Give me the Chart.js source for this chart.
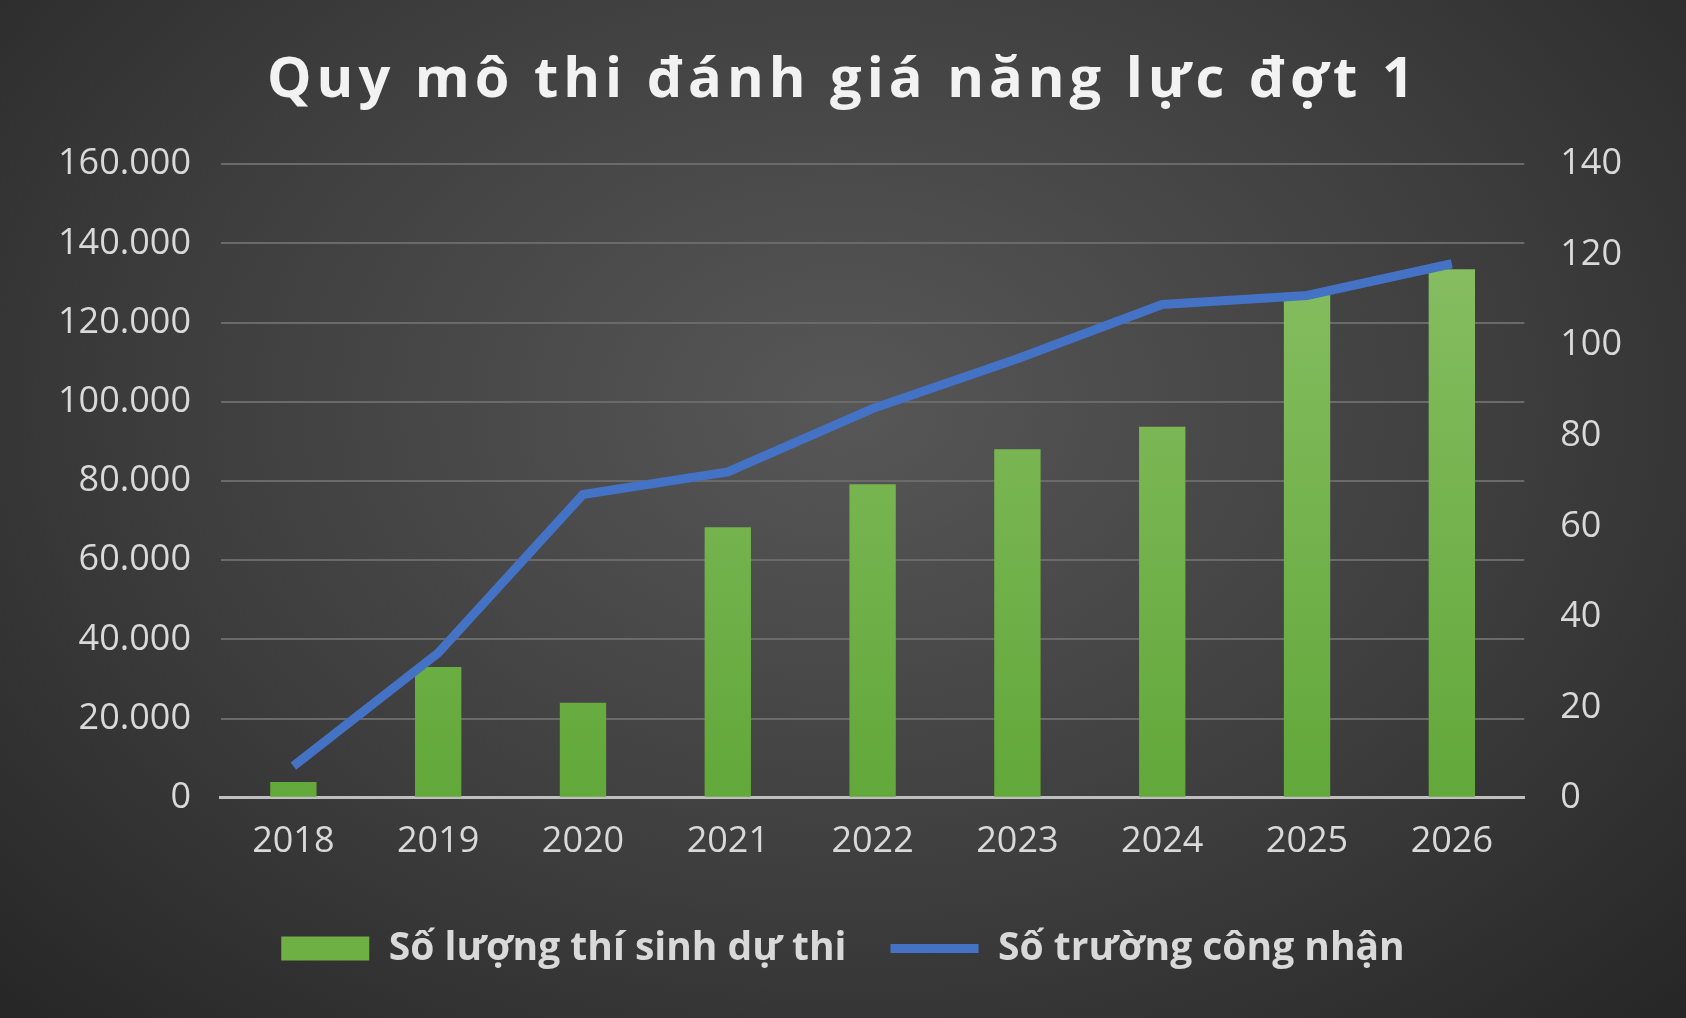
<!DOCTYPE html>
<html><head><meta charset="utf-8">
<script src="https://cdn.jsdelivr.net/npm/chart.js@4/dist/chart.umd.min.js"></script>
<style>
html,body{margin:0;padding:0;width:1686px;height:1018px;overflow:hidden;
 background:radial-gradient(ellipse at 50% 40%, #575757 0%, #3e3e3e 55%, #262626 100%);}
#wrap{position:absolute;left:0;top:0;width:1686px;height:1018px;}
</style></head>
<body><div id="wrap"><canvas id="c"></canvas></div>
<script>
// data
var years = ['2018','2019','2020','2021','2022','2023','2024','2025','2026'];
var candidates = [4000, 33000, 24000, 68300, 79200, 88000, 93700, 127500, 133500];
var schools = [7, 32, 67, 72, 86, 97, 109, 111, 118];
var titleText = 'Quy mô thi đánh giá năng lực đợt 1';
var barLabel = 'Số lượng thí sinh dự thi';
var lineLabel = 'Số trường công nhận';

var tickColor = '#d9d9d9';
var ctx = document.getElementById('c');

// spaced-out title letters
var titleSpacing = {
  id: 'titleSpacing',
  beforeDraw: function(chart){
    var tb = chart.titleBlock;
    if (tb && !tb._patched) {
      var orig = tb.draw;
      tb.draw = function(){
        var c = this.ctx;
        c.save();
        c.letterSpacing = '5px';
        orig.apply(this, arguments);
        c.restore();
      };
      tb._patched = true;
    }
  }
};

new Chart(ctx, {
  data: {
    labels: years,
    datasets: [
      {
        type: 'line', label: lineLabel, data: schools, yAxisID: 'y2',
        borderColor: '#4472c4', backgroundColor: '#4472c4', borderWidth: 9,
        pointRadius: 0, tension: 0, order: 0, pointStyle: 'line'
      },
      {
        type: 'bar', label: barLabel, data: candidates, yAxisID: 'y',
        backgroundColor: function(c){
          var a = c.chart.chartArea;
          if (!a) return '#70ad47';
          var g = c.chart.ctx.createLinearGradient(0, a.top, 0, a.bottom);
          g.addColorStop(0, '#8cc167');
          g.addColorStop(1, '#62a83a');
          return g;
        },
        barPercentage: 0.32, categoryPercentage: 1, order: 1, pointStyle: 'rect'
      }
    ]
  },
  plugins: [titleSpacing],
  options: {
    responsive: true, maintainAspectRatio: false, animation: false,
    layout: { padding: { left: 28, right: 28, top: 22, bottom: 40 } },
    plugins: {
      title: {
        display: true, text: titleText, color: '#f2f2f2',
        font: { family: 'Open Sans', size: 56, weight: 'bold' },
        padding: { top: 25, bottom: 50 }
      },
      legend: {
        position: 'bottom', reverse: true,
        labels: {
          color: '#d9d9d9', usePointStyle: true, pointStyleWidth: 88, boxHeight: 24,
          padding: 44,
          font: { family: 'Open Sans', size: 39, weight: 'bold' },
          generateLabels: function(chart){
            var items = Chart.defaults.plugins.legend.labels.generateLabels(chart);
            items.forEach(function(it){
              if (it.pointStyle === 'line') { it.lineWidth = 9; it.strokeStyle = '#4472c4'; }
              else { it.fillStyle = '#6fb045'; it.lineWidth = 0; }
            });
            return items;
          }
        }
      },
      tooltip: { enabled: false }
    },
    scales: {
      x: {
        grid: { display: false, drawTicks: false },
        border: { color: '#bfbfbf', width: 3 },
        ticks: { color: tickColor, font: { family: 'Open Sans', size: 36 }, padding: 22 }
      },
      y: {
        position: 'left', min: 0, max: 160000,
        grid: { color: '#6a6a6a', lineWidth: 2, drawTicks: false },
        border: { display: false },
        ticks: { stepSize: 20000, color: tickColor, padding: 30,
          font: { family: 'Open Sans', size: 36 },
          callback: function(v){ return v.toString().replace(/\B(?=(\d{3})+(?!\d))/g, '.'); } }
      },
      y2: {
        position: 'right', min: 0, max: 140,
        grid: { display: false, drawTicks: false },
        border: { display: false },
        ticks: { stepSize: 20, color: tickColor, padding: 36, font: { family: 'Open Sans', size: 36 } }
      }
    }
  }
});
</script>
</body></html>
